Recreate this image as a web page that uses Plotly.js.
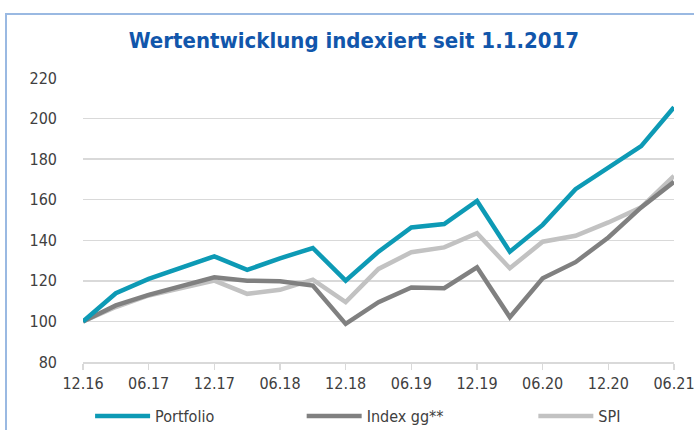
<!DOCTYPE html>
<html>
<head>
<meta charset="utf-8">
<script src="https://cdn.plot.ly/plotly-3.0.1.min.js"></script>
<style>
  html, body { margin: 0; padding: 0; background: #ffffff; }
  #frame { position: absolute; left: 0; top: 0; width: 694px; height: 430px; overflow: hidden; }
  #border { position: absolute; left: 5px; top: 13px; width: 700px; height: 430px;
            border-top: 2px solid #9ab9e2; border-left: 2px solid #9ab9e2; pointer-events: none; }
  #chart { position: absolute; left: 0; top: 0; width: 694px; height: 430px; }
</style>
</head>
<body>
<div id="frame">
  <div id="chart"></div>
  <div id="border"></div>
</div>
<script>
// Quarterly observations, Dec 2016 .. Jun 2021
const periods = ["12.16","03.17","06.17","09.17","12.17","03.18","06.18","09.18","12.18","03.19",
                 "06.19","09.19","12.19","03.20","06.20","09.20","12.20","03.21","06.21"];
const portfolio = [100, 113.9, 121.0, 126.7, 132.1, 125.4, 131.1, 136.2, 120.1, 134.4,
                   146.3, 148.0, 159.4, 134.4, 147.6, 165.2, 175.8, 186.4, 205.6];
const indexGG   = [100, 107.9, 113.1, 117.2, 121.8, 120.1, 119.8, 117.7, 98.8, 109.5,
                   116.7, 116.4, 126.7, 102.1, 121.3, 129.2, 141.4, 156.2, 168.8];
const spi       = [100, 107.1, 112.8, 116.5, 120.1, 113.6, 115.6, 120.6, 109.5, 125.9,
                   134.1, 136.5, 143.5, 126.2, 139.3, 142.2, 148.8, 156.2, 171.7];
const tickLabels = ["12.16","06.17","12.17","06.18","12.18","06.19","12.19","06.20","12.20","06.21"];
const tickPositions = ["12.16","06.17","12.17","06.18","12.18","06.19","12.19","06.20","12.20","06.21"];
const seriesNames = ["Portfolio", "Index gg**", "SPI"];
const yTicks = [80, 100, 120, 140, 160, 180, 200, 220];

const FONT = "'DejaVu Sans Condensed', 'Liberation Sans Narrow', 'Arial Narrow', sans-serif";
const xIdx = periods.map((_, i) => i);
const tickIdx = tickPositions.map(p => periods.indexOf(p));

const mk = (y, name, color, legend) => ({
  type: "scatter", mode: "lines", x: xIdx, y: y, name: name, legend: legend,
  line: { color: color, width: 4.5, shape: "linear" },
  hoverinfo: "skip"
});

const data = [
  mk(spi, seriesNames[2], "#c2c2c2", "legend3"),
  mk(indexGG, seriesNames[1], "#808080", "legend2"),
  mk(portfolio, seriesNames[0], "#0d9ab5", "legend")
];

const legFont = { family: FONT, size: 16, color: "#404040" };
const legBase = { orientation: "h", yref: "container", yanchor: "middle", y: 1 - 416 / 430,
                  xanchor: "left",
                  font: legFont, bgcolor: "rgba(0,0,0,0)", borderwidth: 0,
                  itemwidth: 55, tracegroupgap: 0 };

const layout = {
  width: 694, height: 430,
  margin: { l: 83, r: 20, t: 78, b: 68, pad: 0 },
  paper_bgcolor: "#ffffff", plot_bgcolor: "#ffffff",
  font: { family: FONT, size: 16, color: "#404040" },
  title: {
    text: "<b>Wertentwicklung indexiert seit 1.1.2017</b>",
    font: { family: FONT, size: 22, color: "#1156ab" },
    xref: "container", x: 0.51, xanchor: "center",
    yref: "container", y: 1 - 40 / 430, yanchor: "middle"
  },
  xaxis: {
    range: [0, periods.length - 1],
    tickmode: "array", tickvals: tickIdx, ticktext: tickLabels,
    showgrid: false, zeroline: false,
    showline: true, linecolor: "#d9d9d9", linewidth: 1.5,
    ticks: "outside", ticklen: 6, tickcolor: "#d9d9d9", tickwidth: 1.5,
    ticklabeloverflow: "allow",
    tickfont: { family: FONT, size: 16, color: "#404040" },
    automargin: false,
    fixedrange: true
  },
  yaxis: {
    range: [80, 220],
    tickmode: "array", tickvals: yTicks,
    showgrid: true, gridcolor: "#d9d9d9", gridwidth: 1.5,
    zeroline: false, showline: false, ticks: "",
    ticklabelstandoff: 25,
    tickfont: { family: FONT, size: 16, color: "#404040" },
    automargin: false,
    fixedrange: true
  },
  showlegend: true,
  legend:  Object.assign({}, legBase, { x: 0.012 }),
  legend2: Object.assign({}, legBase, { x: 0.37 }),
  legend3: Object.assign({}, legBase, { x: 0.762 })
};

Plotly.newPlot("chart", data, layout, { staticPlot: true, displayModeBar: false });
</script>
</body>
</html>
